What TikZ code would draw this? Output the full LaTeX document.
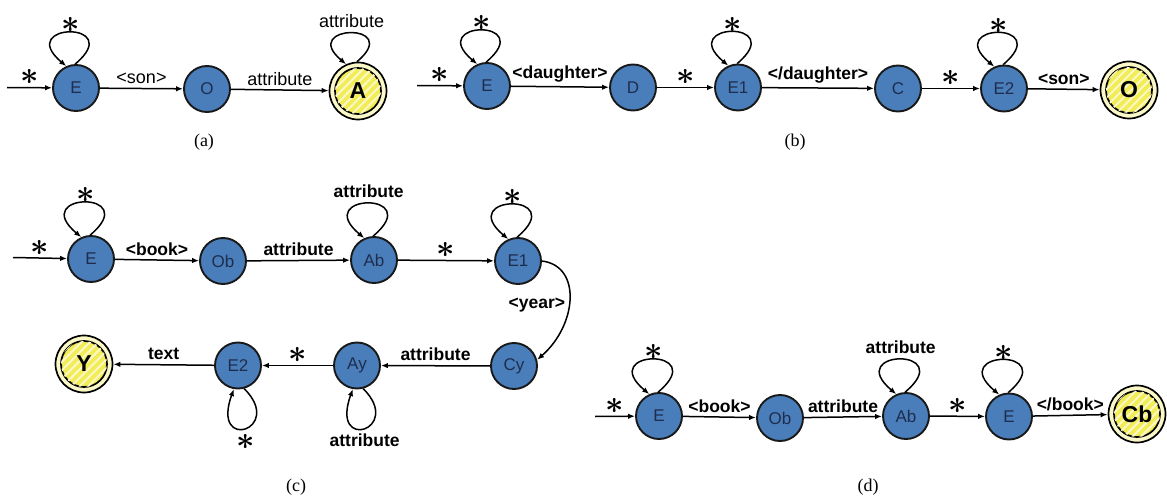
\documentclass[tikz,border=0pt]{standalone}
\usepackage{fontspec}
\usepackage{graphicx}
\setmainfont{Liberation Sans}
\newfontfamily\capfont{Liberation Serif}
\usetikzlibrary{arrows.meta,patterns.meta}
\definecolor{nodeblue}{HTML}{4A7EBB}
\definecolor{nodetext}{HTML}{1F2D4D}
\definecolor{accyellow}{HTML}{F2EC55}
\definecolor{stripe}{HTML}{FBF8C8}
\newcommand\stx{\scalebox{3.2}{\boldmath$\ast$}}
\tikzset{
 nd/.style={circle, draw=black!90, line width=1.9pt, fill=nodeblue, minimum size=46pt, inner sep=0pt, text=nodetext, font=\fontsize{17}{17}\selectfont},
 accout/.style={circle, draw=black, line width=1.7pt, fill=stripe, minimum size=57pt, inner sep=0pt},
 accin/.style={circle, draw=black, line width=1.7pt, fill=accyellow, postaction={pattern={Lines[angle=45,distance=6pt,line width=2pt]}, pattern color=stripe}, minimum size=46pt, inner sep=0pt, font=\bfseries\fontsize{23}{23}\selectfont},
 conn/.style={line width=1.5pt, -{Latex[length=7pt,width=5.5pt]}},
 lab/.style={font=\fontsize{18}{18}\selectfont, inner sep=0pt, above=4pt},
 blab/.style={font=\bfseries\fontsize{17.5}{17.5}\selectfont, inner sep=0pt, above=4pt},
 stlab/.style={inner sep=0pt, above=2pt},
 stloop/.style={inner sep=0pt, above=-1pt},
 captxt/.style={font=\capfont\fontsize{18}{18}\selectfont}
}
\begin{document}
\begin{tikzpicture}[x=1pt,y=1pt]
\useasboundingbox (0,0) rectangle (1167,-500);
% ---------- (a)
\coordinate (ia) at (7,-87.5);
\node[nd] (Ea) at (76,-88) {E};
\node[nd] (Oa) at (207,-89) {O};
\node[accout] (Aa) at (358,-91) {};
\node[accin] (Aai) at (Aa) {A};
\draw[conn] (ia) -- node[stlab] (sa1) {\stx} (Ea);
\draw[conn] (Ea) -- node[lab] (la1) {<son>} (Oa);
\draw[conn] (Oa) -- node[lab] (la2) {attribute} (Aa);
\draw[conn] (Ea.92) .. controls +(40:68) and +(140:68) .. node[stloop] (sa2) {\stx} (Ea.114);
\draw[conn] (Aa.92) .. controls +(40:62) and +(140:62) .. node[lab, above=1pt] (la3) {attribute} (Aa.114);
\node[captxt] (capa) at (204,-142) {(a)};
% ---------- (b)
\coordinate (ib) at (417,-85.5);
\node[nd] (Eb) at (487,-86) {E};
\node[nd] (Db) at (633,-87.5) {D};
\node[nd] (E1b) at (738,-87.5) {E1};
\node[nd] (Cb) at (898,-88.5) {C};
\node[nd] (E2b) at (1004,-88.5) {E2};
\node[accout] (Ob) at (1129,-90) {};
\node[accin] (Obi) at (Ob) {O};
\draw[conn] (ib) -- node[stlab] (sb1) {\stx} (Eb);
\draw[conn] (Eb) -- node[blab] (lb1) {<daughter>} (Db);
\draw[conn] (Db) -- node[stlab] (sb2) {\stx} (E1b);
\draw[conn] (E1b) -- node[blab] (lb2) {</daughter>} (Cb);
\draw[conn] (Cb) -- node[stlab] (sb3) {\stx} (E2b);
\draw[conn] (E2b) -- node[blab] (lb3) {<son>} (Ob);
\draw[conn] (Eb.92) .. controls +(40:68) and +(140:68) .. node[stloop] (sb4) {\stx} (Eb.114);
\draw[conn] (E1b.92) .. controls +(40:68) and +(140:68) .. node[stloop] (sb5) {\stx} (E1b.114);
\draw[conn] (E2b.92) .. controls +(40:68) and +(140:68) .. node[stloop] (sb6) {\stx} (E2b.114);
\node[captxt] (capb) at (795,-142) {(b)};
% ---------- (c)
\coordinate (ic) at (13,-257.5);
\node[nd] (Ec) at (91,-259) {E};
\node[nd] (Obc) at (223,-261) {Ob};
\node[nd] (Abc) at (374,-260) {Ab};
\node[nd] (E1c) at (518,-261) {E1};
\node[nd] (Cyc) at (514,-366) {Cy};
\node[nd] (Ayc) at (357,-365.5) {Ay};
\node[nd] (E2c) at (238,-365.5) {E2};
\node[accout] (Yc) at (84,-364) {};
\node[accin] (Yci) at (Yc) {Y};
\draw[conn] (ic) -- node[stlab] (sc1) {\stx} (Ec);
\draw[conn] (Ec) -- node[blab] (lc1) {<book>} (Obc);
\draw[conn] (Obc) -- node[blab] (lc2) {attribute} (Abc);
\draw[conn] (Abc) -- node[stlab] (sc2) {\stx} (E1c);
\draw[conn] (E1c.east) .. controls +(40,-5) and +(40,35) .. node[pos=0.55, left=3pt, font=\bfseries\fontsize{17.5}{17.5}\selectfont, inner sep=0pt] (lc3) {<year>} (Cyc.15);
\draw[conn] (Cyc) -- node[blab] (lc4) {attribute} (Ayc);
\draw[conn] (Ayc) -- node[stlab] (sc3) {\stx} (E2c);
\draw[conn] (E2c) -- node[blab] (lc5) {text} (Yc);
\draw[conn] (Ec.92) .. controls +(40:70) and +(140:70) .. node[stloop] (sc4) {\stx} (Ec.114);
\draw[conn] (Abc.92) .. controls +(40:70) and +(140:70) .. node[blab, above=1pt] (lc6) {attribute} (Abc.114);
\draw[conn] (E1c.92) .. controls +(40:70) and +(140:70) .. node[stloop] (sc5) {\stx} (E1c.114);
\draw[conn] (E2c.-75) .. controls +(-45:58) and +(-110:68) .. node[below=5pt, inner sep=0pt] (sc6) {\stx} (E2c.-100);
\draw[conn] (Ayc.-75) .. controls +(-45:58) and +(-110:68) .. node[below=5pt, font=\bfseries\fontsize{17.5}{17.5}\selectfont, inner sep=0pt] (lc7) {attribute} (Ayc.-100);
\node[captxt] (capc) at (296,-487) {(c)};
% ---------- (d)
\coordinate (id) at (595,-416.5);
\node[nd] (Ed) at (659,-416) {E};
\node[nd] (Obd) at (780,-418) {Ob};
\node[nd] (Abd) at (906,-416) {Ab};
\node[nd] (E2d) at (1009,-416.5) {E};
\node[accout] (Cbd) at (1137,-414) {};
\node[accin] (Cbdi) at (Cbd) {Cb};
\draw[conn] (id) -- node[stlab] (sd1) {\stx} (Ed);
\draw[conn] (Ed) -- node[blab] (ld1) {<book>} (Obd);
\draw[conn] (Obd) -- node[blab] (ld2) {attribute} (Abd);
\draw[conn] (Abd) -- node[stlab] (sd2) {\stx} (E2d);
\draw[conn] (E2d) -- node[blab] (ld3) {</book>} (Cbd);
\draw[conn] (Ed.92) .. controls +(40:70) and +(140:70) .. node[stloop] (sd3) {\stx} (Ed.114);
\draw[conn] (Abd.92) .. controls +(40:70) and +(140:70) .. node[blab, above=1pt] (ld4) {attribute} (Abd.114);
\draw[conn] (E2d.92) .. controls +(40:70) and +(140:70) .. node[stloop] (sd4) {\stx} (E2d.114);
\node[captxt] (capd) at (868,-487) {(d)};
\end{tikzpicture}
\end{document}
